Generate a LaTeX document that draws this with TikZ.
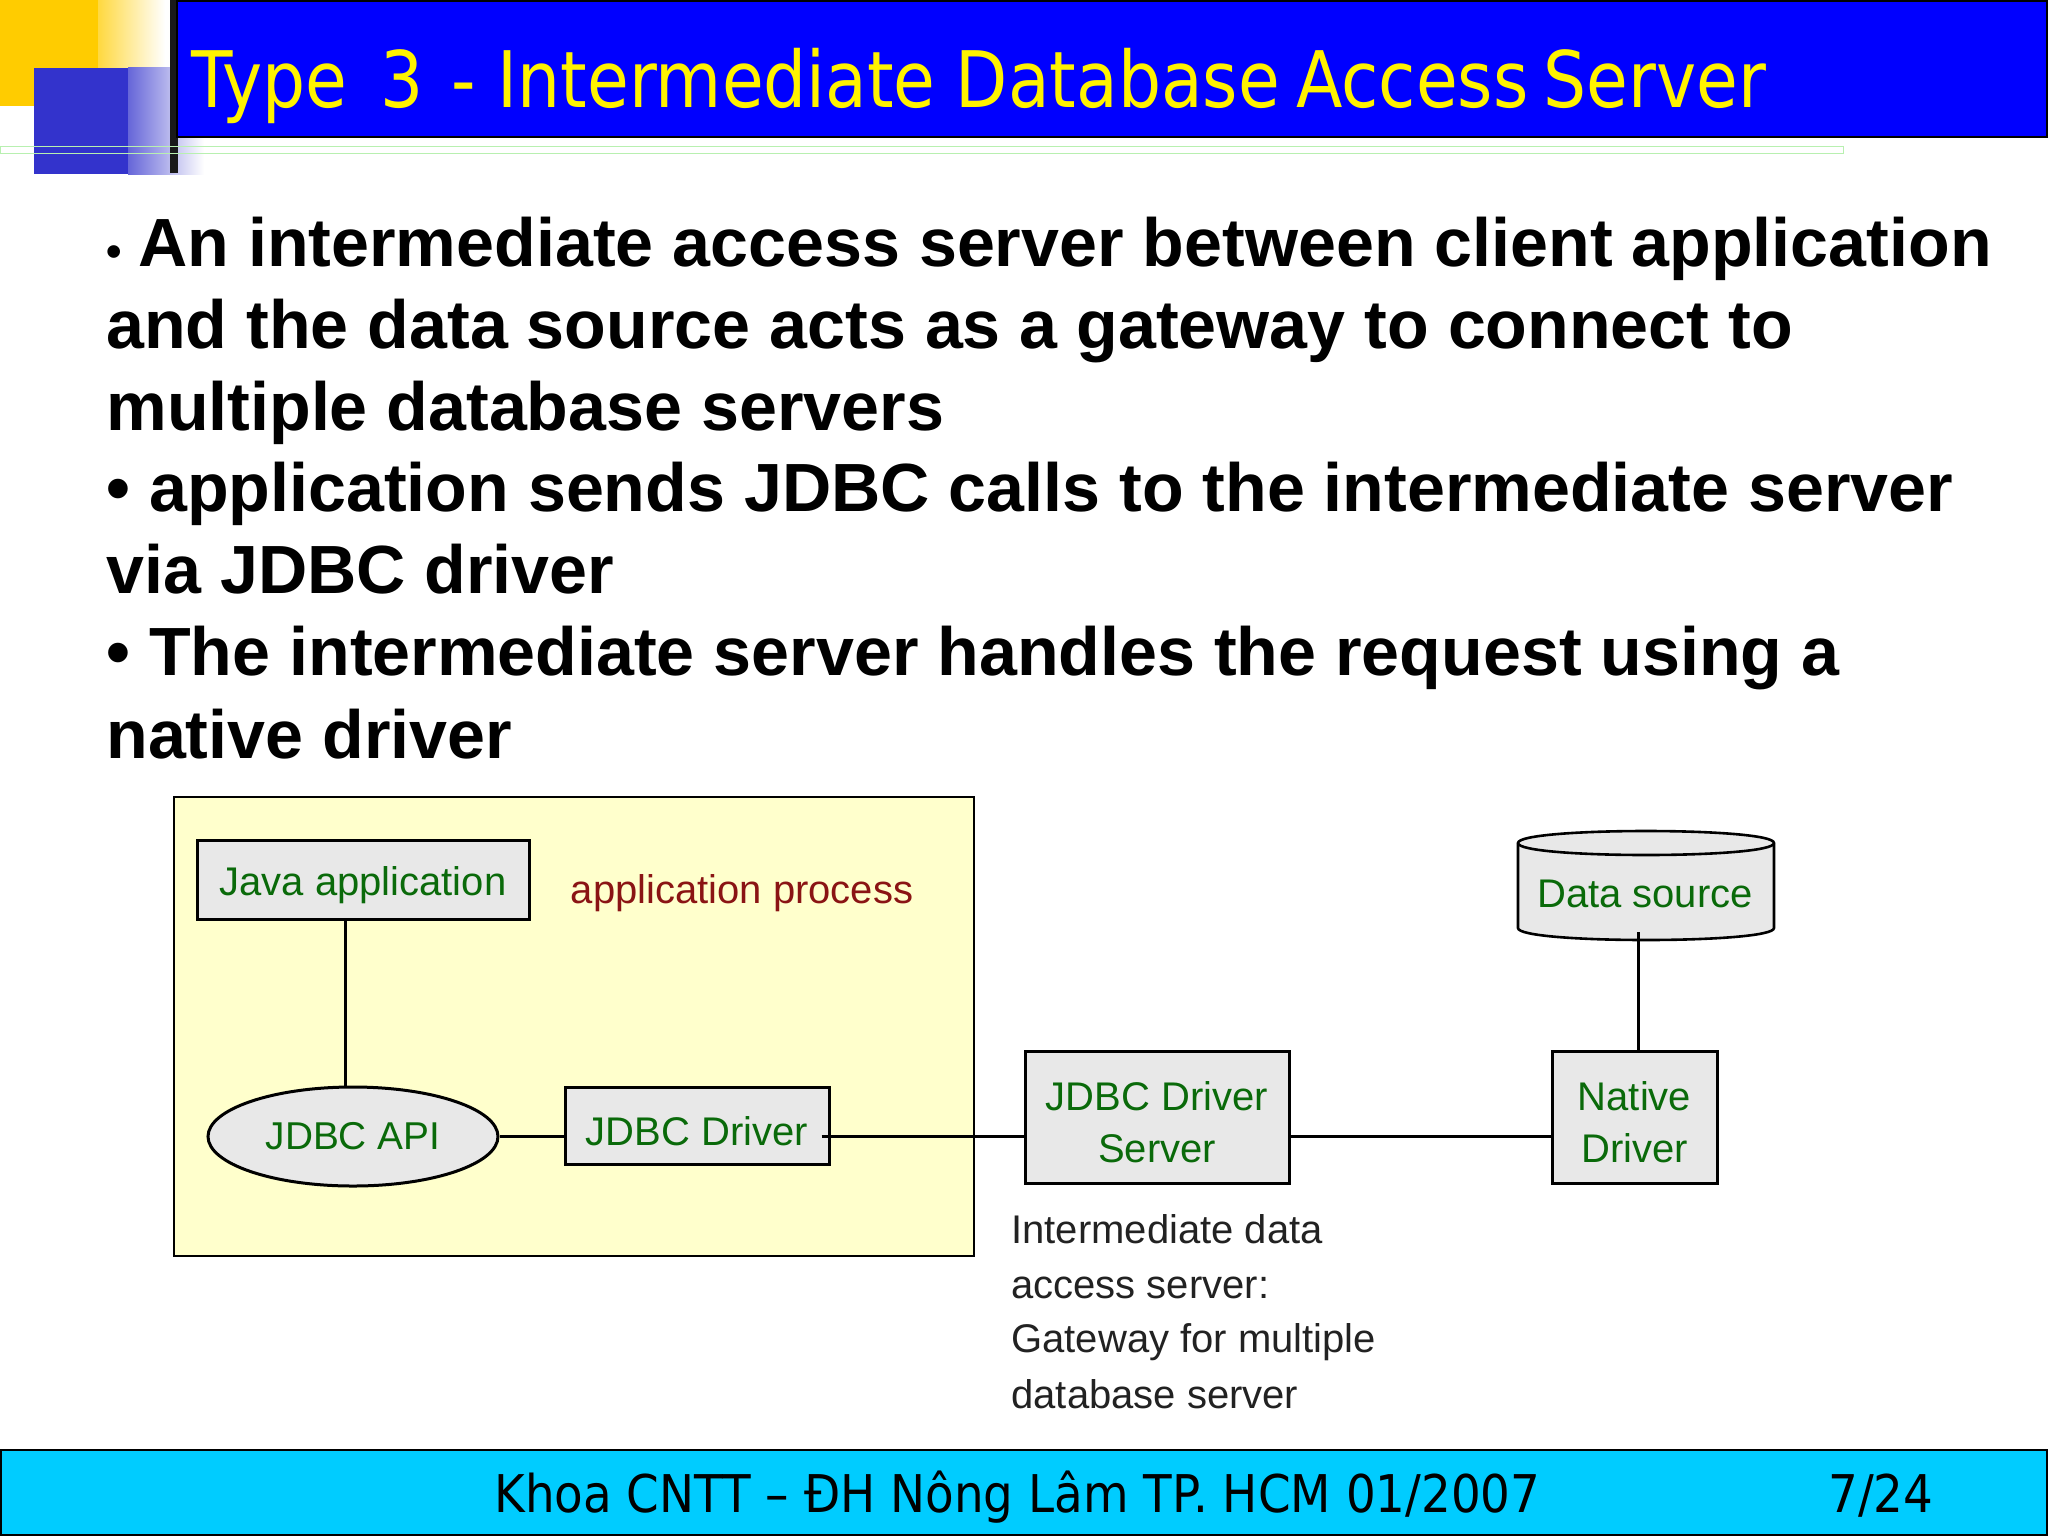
\documentclass[tikz,border=0pt]{standalone}
\usepackage{fontspec}
\setmainfont{Liberation Sans}
\newfontfamily\tah[FakeStretch=0.87]{DejaVu Sans}
\newfontfamily\tahf[FakeStretch=0.90]{DejaVu Sans}
\usetikzlibrary{shapes.geometric,calc}
\definecolor{ygold}{HTML}{FFCC00}
\definecolor{sqblue}{HTML}{3333CC}
\definecolor{barblue}{HTML}{0000FF}
\definecolor{footc}{HTML}{00CCFF}
\definecolor{procy}{HTML}{FFFFCC}
\definecolor{boxg}{HTML}{E8E8E8}
\definecolor{txtg}{HTML}{0A6A0A}
\definecolor{txtr}{HTML}{8A1414}
\definecolor{txtk}{HTML}{222222}
\definecolor{gline}{HTML}{B8F0B0}
\newcommand{\dwn}[1]{\raisebox{-2.6pt}[\height][\depth]{#1}}
\tikzset{
  x=0.5pt,y=-0.5pt,
  titletext/.style={anchor=base west,inner sep=0,text=yellow,font=\tah\fontsize{39}{44}\selectfont},
  bodyline/.style={anchor=base west,inner sep=0,font=\fontsize{34.1}{40}\selectfont\bfseries},
  diabox/.style={draw=black,line width=1.5pt,fill=boxg,rectangle,inner sep=0,align=center,text=txtg,font=\fontsize{20}{26}\selectfont},
  apiell/.style={draw=black,line width=1.5pt,fill=boxg,ellipse,inner sep=0,text=txtg,font=\fontsize{19.4}{26}\selectfont},
  wire/.style={draw=black,line width=1.5pt},
  notetext/.style={anchor=base west,inner sep=0,text=txtk,font=\fontsize{20}{26}\selectfont},
  foottext/.style={anchor=base west,inner sep=0,text=black,font=\tahf\fontsize{26}{30}\selectfont},
}
\begin{document}
\begin{tikzpicture}
\useasboundingbox (0,0) rectangle (2048,1536);
\fill[white] (0,0) rectangle (2048,1536);
% decoration squares
\fill[ygold] (0,0) rectangle (98,106);
\shade[left color=ygold!75!white,right color=white] (98,0) rectangle (165,68);
\fill[sqblue] (34,68) rectangle (128,174);
\shade[left color=sqblue!75!white,right color=white] (128,68) rectangle (204,174);
\fill[black!90] (170,0) rectangle (178,173);
% title bar
\draw[fill=barblue,draw=black,line width=1pt] (177,1) rectangle (2047,137);
\node[titletext] (title) at (191,108) {Type\hspace{5.9pt} 3\hspace{3.2pt} - Intermediate\hspace{-0.6pt} Database\hspace{-2.6pt} Access\hspace{-3.3pt} Server};
\draw[gline,line width=0.5pt] (0,146) rectangle (1843,153);
% body
\node[bodyline] (b1a) at (138,266.5) {An intermediate access server between client application};
\node[anchor=base west,inner sep=0,font=\fontsize{22}{24}\selectfont\bfseries] (b1b) at (106,266.5) {•};
\node[bodyline] (b2) at (106,348.5) {and the data source acts as a gateway to connect to};
\node[bodyline] (b3) at (106,430) {multiple database servers};
\node[bodyline] (b4) at (106,511.5) {• application sends JDBC calls to the intermediate server};
\node[bodyline] (b5) at (106,593.5) {via JDBC driver};
\node[bodyline] (b6) at (106,675.5) {• The intermediate server handles the request using a};
\node[bodyline] (b7) at (106,758) {native driver};
% process box
\draw[fill=procy,draw=black,line width=1.3pt] (174,797) rectangle (974,1256);
\node[diabox,minimum width=166pt,minimum height=39.5pt] (java) at (363,879.5) {\dwn{Java application}};
\node[anchor=center,inner sep=0,text=txtr,font=\fontsize{20}{26}\selectfont] (proc) at (742,893) {application process};
\node[apiell,minimum width=145pt,minimum height=49.5pt] (api) at (353,1136.5) {JDBC API};
\node[diabox,minimum width=132pt,minimum height=38.5pt] (drv) at (697,1125.5) {\dwn{JDBC Driver}};
\node[diabox,minimum width=132pt,minimum height=66pt] (srv) at (1157,1117) {\dwn{JDBC Driver}\\\dwn{Server}};
\node[diabox,minimum width=82.5pt,minimum height=66pt] (nat) at (1634.5,1117) {\dwn{Native}\\\dwn{Driver}};
% data source
\draw[fill=boxg,draw=black,line width=1.3pt] (1518,843) -- (1518,928) .. controls (1518,944) and (1774,944) .. (1774,928) -- (1774,843) .. controls (1774,827) and (1518,827) .. (1518,843) -- cycle;
\draw[draw=black,line width=1.3pt] (1518,843) .. controls (1518,859) and (1774,859) .. (1774,843);
\node[inner sep=0,text=txtg,font=\fontsize{20}{26}\selectfont] (ds) at (1645,894) {Data source};
% connectors
\draw[wire] (java.south -| 345,0) -- (api.north -| 345,0);
\draw[wire] (api.east) -- (api.east -| drv.west);
\draw[wire] ([xshift=-4.5pt]api.east -| drv.east) -- (api.east -| srv.west);
\draw[wire] (api.east -| srv.east) -- (api.east -| nat.west);
\draw[wire] ([xshift=1.75pt]nat.north) -- ([xshift=1.75pt,yshift=-12pt]nat.north |- ds.south);
% note
\node[notetext] (n1) at (1011,1243) {Intermediate data};
\node[notetext] (n2) at (1011,1298) {access server:};
\node[notetext] (n3) at (1011,1352) {Gateway for multiple};
\node[notetext] (n4) at (1011,1408) {database server};
% footer
\draw[fill=footc,draw=black,line width=1pt] (1,1450) rectangle (2047,1535);
\node[foottext] (f1) at (494,1512) {Khoa CNTT – ĐH Nông Lâm TP. HCM 01/2007};
\node[foottext] (f2) at (1828,1512) {7/24};
\end{tikzpicture}
\end{document}
